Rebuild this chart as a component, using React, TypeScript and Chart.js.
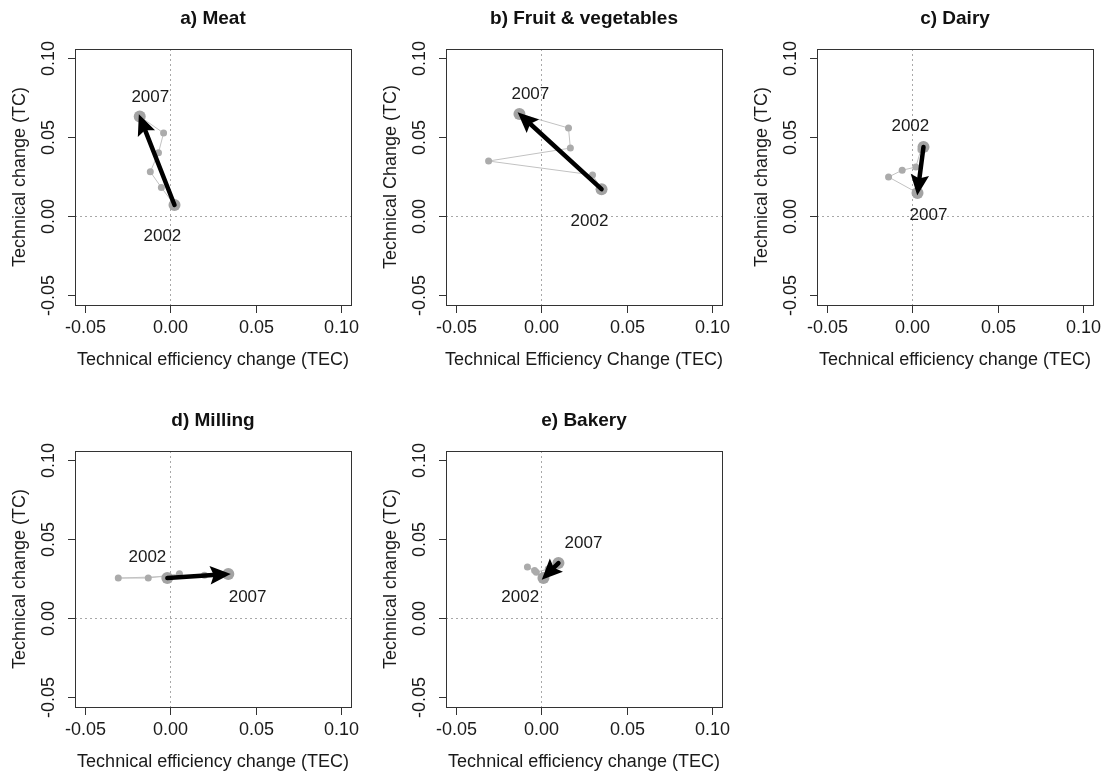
import React, { useEffect, useRef } from "react";
import { Chart, registerables } from "chart.js";

Chart.register(...registerables);

const FONT = '"Liberation Sans", Arial, Helvetica, sans-serif';

// ---- text ----
const panelTitles = ["a) Meat", "b) Fruit & vegetables", "c) Dairy", "d) Milling", "e) Bakery"];
const xAxisTitles = [
  "Technical efficiency change (TEC)",
  "Technical Efficiency Change (TEC)",
  "Technical efficiency change (TEC)",
  "Technical efficiency change (TEC)",
  "Technical efficiency change (TEC)",
];
const yAxisTitles = [
  "Technical change (TC)",
  "Technical Change (TC)",
  "Technical change (TC)",
  "Technical change (TC)",
  "Technical change (TC)",
];
const tickValues = [-0.05, 0.0, 0.05, 0.1];
const tickLabels = ["-0.05", "0.00", "0.05", "0.10"];
const yearLabels = ["2002", "2007"];

// ---- axis limits ----
const xLimits = [-0.056, 0.106];
const yLimits = [-0.0563, 0.1057];

// ---- series (years 2002..2007): TEC (x) and TC (y) ----
const meatTEC = [0.0024, -0.0053, -0.0118, -0.007, -0.004, -0.018];
const meatTC = [0.007, 0.018, 0.028, 0.04, 0.0525, 0.063];

const fruitTEC = [0.0353, 0.03, -0.031, 0.017, 0.0159, -0.0129];
const fruitTC = [0.017, 0.026, 0.0348, 0.043, 0.0557, 0.0646];

const dairyTEC = [0.0065, 0.005, 0.002, -0.006, -0.014, 0.003];
const dairyTC = [0.0437, 0.042, 0.031, 0.029, 0.0247, 0.0146];

const millingTEC = [-0.0018, 0.0053, -0.013, -0.0306, 0.02, 0.034];
const millingTC = [0.0253, 0.028, 0.0253, 0.0253, 0.027, 0.0278];

const bakeryTEC = [0.0012, -0.004, -0.0082, -0.003, 0.004, 0.01];
const bakeryTC = [0.0253, 0.03, 0.0323, 0.029, 0.031, 0.0348];

// ---- arrows (from, to) in data units ----
const meatArrow = [[0.0024, 0.007], [-0.018, 0.063]];
const fruitArrow = [[0.0353, 0.017], [-0.0129, 0.0646]];
const dairyArrow = [[0.0065, 0.0437], [0.003, 0.0146]];
const millingArrow = [[-0.0018, 0.0253], [0.034, 0.0278]];
const bakeryArrow = [[0.01, 0.0348], [0.0012, 0.0253]];

// ---- year label anchors [2002, 2007] in data units ----
const meatLabelPos = [[-0.0047, -0.0127], [-0.0118, 0.0753]];
const fruitLabelPos = [[0.0282, -0.0032], [-0.0065, 0.0772]];
const dairyLabelPos = [[-0.0012, 0.057], [0.0094, 0.0006]];
const millingLabelPos = [[-0.0135, 0.0386], [0.0453, 0.0133]];
const bakeryLabelPos = [[-0.0124, 0.0133], [0.0247, 0.0475]];

const seriesTEC = [meatTEC, fruitTEC, dairyTEC, millingTEC, bakeryTEC];
const seriesTC = [meatTC, fruitTC, dairyTC, millingTC, bakeryTC];
const arrows = [meatArrow, fruitArrow, dairyArrow, millingArrow, bakeryArrow];
const labelPositions = [meatLabelPos, fruitLabelPos, dairyLabelPos, millingLabelPos, bakeryLabelPos];

// ---- layout (canvas placement) ----
const panelLayout = [
  { left: 0, top: 0, width: 371, height: 402 },
  { left: 371, top: 0, width: 371, height: 402 },
  { left: 742, top: 0, width: 363, height: 402 },
  { left: 0, top: 402, width: 371, height: 369 },
  { left: 371, top: 402, width: 371, height: 369 },
];
const BOX_LEFT = 75;
const BOX_RIGHT = 351;
const BOX_TOP = 49;
const BOX_BOTTOM = 305;
const TEXT_COLOR = "#1a1a1a";

function drawArrow(ctx: CanvasRenderingContext2D, x0: number, y0: number, x1: number, y1: number) {
  const ang = Math.atan2(y1 - y0, x1 - x0);
  const L = 18;
  const A = (24 * Math.PI) / 180;
  const len = Math.hypot(x1 - x0, y1 - y0);
  const back = Math.min(L * Math.cos(A) * 0.7, len);
  const sx = x1 - back * Math.cos(ang);
  const sy = y1 - back * Math.sin(ang);
  ctx.save();
  ctx.strokeStyle = "#000";
  ctx.fillStyle = "#000";
  ctx.lineWidth = 4.5;
  ctx.lineCap = "round";
  ctx.beginPath();
  ctx.moveTo(x0, y0);
  ctx.lineTo(sx, sy);
  ctx.stroke();
  ctx.lineWidth = 2;
  ctx.lineJoin = "miter";
  ctx.beginPath();
  ctx.moveTo(x1, y1);
  ctx.lineTo(x1 - L * Math.cos(ang - A), y1 - L * Math.sin(ang - A));
  ctx.lineTo(x1 - L * 0.75 * Math.cos(ang), y1 - L * 0.75 * Math.sin(ang));
  ctx.lineTo(x1 - L * Math.cos(ang + A), y1 - L * Math.sin(ang + A));
  ctx.closePath();
  ctx.fill();
  ctx.stroke();
  ctx.restore();
}

function Panel({ index }: { index: number }) {
  const ref = useRef<HTMLCanvasElement | null>(null);
  const lay = panelLayout[index];

  useEffect(() => {
    const canvas = ref.current;
    if (!canvas) return;
    const xs = seriesTEC[index];
    const ys = seriesTC[index];
    const path = xs.map((x, i) => ({ x, y: ys[i] }));
    const ends = [path[0], path[path.length - 1]];
    const arrow = arrows[index];
    const lblPos = labelPositions[index];

    const decor = {
      id: "decor" + index,
      beforeDatasetsDraw(chart: any) {
        const { ctx, chartArea, scales } = chart;
        const x0 = Math.round(scales.x.getPixelForValue(0)) + 0.5;
        const y0 = Math.round(scales.y.getPixelForValue(0)) + 0.5;
        ctx.save();
        ctx.strokeStyle = "#a8a8a8";
        ctx.lineWidth = 1;
        ctx.setLineDash([2, 3]);
        ctx.beginPath();
        ctx.moveTo(x0, chartArea.top);
        ctx.lineTo(x0, chartArea.bottom);
        ctx.moveTo(chartArea.left, y0);
        ctx.lineTo(chartArea.right, y0);
        ctx.stroke();
        ctx.restore();
      },
      afterDatasetsDraw(chart: any) {
        const { ctx, scales } = chart;
        const px = (v: number) => scales.x.getPixelForValue(v);
        const py = (v: number) => scales.y.getPixelForValue(v);
        drawArrow(ctx, px(arrow[0][0]), py(arrow[0][1]), px(arrow[1][0]), py(arrow[1][1]));
        ctx.save();
        ctx.fillStyle = TEXT_COLOR;
        ctx.font = `17px ${FONT}`;
        ctx.textAlign = "center";
        ctx.textBaseline = "middle";
        yearLabels.forEach((t, i) => {
          ctx.fillText(t, px(lblPos[i][0]), py(lblPos[i][1]));
        });
        ctx.restore();
      },
      afterDraw(chart: any) {
        const { ctx, chartArea, scales } = chart;
        const { left, right, top, bottom } = chartArea;
        ctx.save();
        ctx.strokeStyle = "#333";
        ctx.lineWidth = 1;
        ctx.strokeRect(Math.round(left) + 0.5, Math.round(top) + 0.5, Math.round(right - left), Math.round(bottom - top));
        ctx.fillStyle = TEXT_COLOR;
        ctx.font = `18px ${FONT}`;
        ctx.textAlign = "center";
        ctx.textBaseline = "middle";
        tickValues.forEach((v, i) => {
          const x = Math.round(scales.x.getPixelForValue(v)) + 0.5;
          ctx.beginPath();
          ctx.moveTo(x, bottom);
          ctx.lineTo(x, bottom + 8);
          ctx.stroke();
          ctx.fillText(tickLabels[i], x, bottom + 23);
        });
        tickValues.forEach((v, i) => {
          const y = Math.round(scales.y.getPixelForValue(v)) + 0.5;
          ctx.beginPath();
          ctx.moveTo(left, y);
          ctx.lineTo(left - 7, y);
          ctx.stroke();
          ctx.save();
          ctx.translate(left - 26, y);
          ctx.rotate(-Math.PI / 2);
          ctx.fillText(tickLabels[i], 0, 0);
          ctx.restore();
        });
        ctx.fillText(xAxisTitles[index], (left + right) / 2, bottom + 55);
        ctx.save();
        ctx.translate(left - 55, (top + bottom) / 2);
        ctx.rotate(-Math.PI / 2);
        ctx.fillText(yAxisTitles[index], 0, 0);
        ctx.restore();
        ctx.restore();
      },
    };

    const chart = new Chart(canvas, {
      type: "scatter",
      data: {
        datasets: [
          {
            data: ends,
            order: 0,
            showLine: false,
            pointRadius: 6,
            pointBackgroundColor: "#a3a3a3",
            pointBorderColor: "#a3a3a3",
            pointBorderWidth: 0,
          },
          {
            data: path,
            order: 1,
            showLine: true,
            borderColor: "#c2c2c2",
            borderWidth: 1,
            pointRadius: 3.5,
            pointBackgroundColor: "#ababab",
            pointBorderColor: "#ababab",
            pointBorderWidth: 0,
          },
        ],
      },
      options: {
        animation: false,
        responsive: false,
        maintainAspectRatio: false,
        devicePixelRatio: 1,
        events: [],
        layout: {
          padding: {
            left: BOX_LEFT,
            right: lay.width - BOX_RIGHT,
            top: 0,
            bottom: lay.height - BOX_BOTTOM,
          },
        },
        scales: {
          x: { type: "linear", display: false, min: xLimits[0], max: xLimits[1] },
          y: { type: "linear", display: false, min: yLimits[0], max: yLimits[1] },
        },
        plugins: {
          legend: { display: false },
          tooltip: { enabled: false },
          title: {
            display: true,
            text: panelTitles[index],
            fullSize: false,
            color: "#111",
            font: { family: FONT, size: 19, weight: "bold", lineHeight: 1.2 },
            padding: { top: 7.6, bottom: 18.6 },
          },
        },
      },
      plugins: [decor],
    } as any);
    return () => chart.destroy();
  }, [index]);

  return (
    <canvas
      ref={ref}
      width={lay.width}
      height={lay.height}
      style={{ position: "absolute", left: lay.left, top: lay.top, width: lay.width, height: lay.height }}
    />
  );
}

export default function App() {
  return (
    <div
      style={{
        position: "fixed",
        left: 0,
        top: 0,
        width: 1105,
        height: 771,
        background: "#ffffff",
        overflow: "hidden",
      }}
    >
      {panelTitles.map((_, i) => (
        <Panel key={i} index={i} />
      ))}
    </div>
  );
}
